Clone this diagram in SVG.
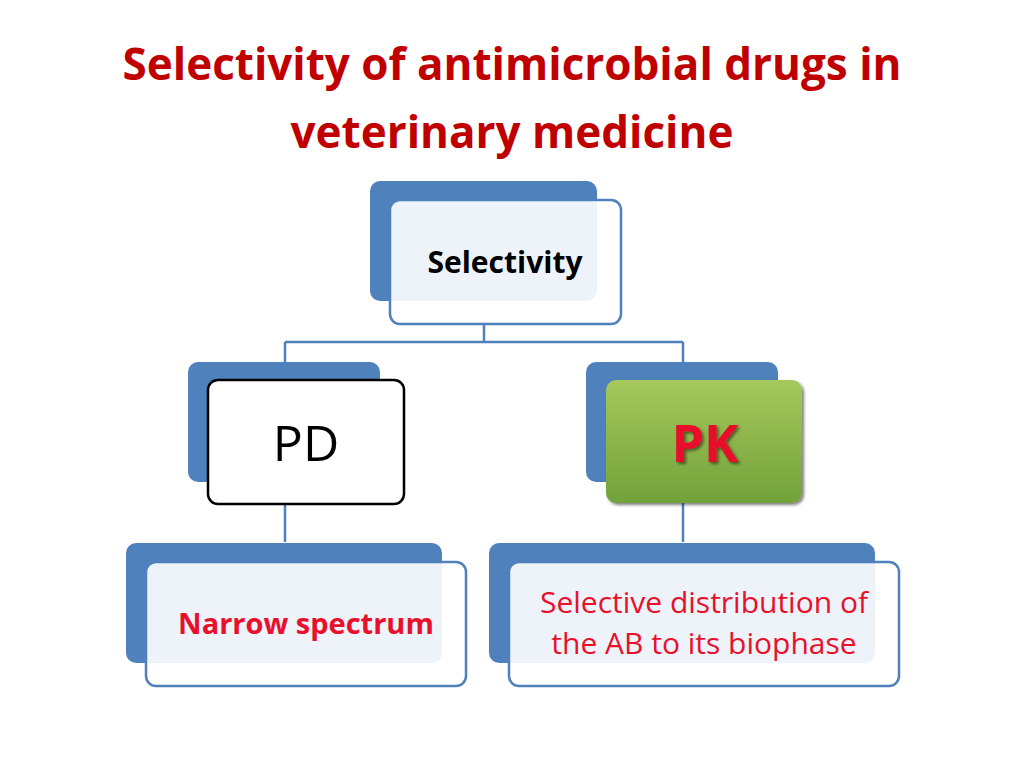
<svg xmlns="http://www.w3.org/2000/svg" width="1024" height="768" viewBox="0 0 1024 768">
<style>
.back{fill:#4F81BD}
.front{fill:#fff;fill-opacity:0.9;stroke:#4F81BD;stroke-width:2.5}
.t{font-family:"Open Sans","Liberation Sans",sans-serif;text-anchor:middle}
.con{stroke:#4F81BD;stroke-width:2.5;fill:none}
</style>
<defs>
<linearGradient id="g" x1="0" y1="0" x2="0" y2="1">
<stop offset="0" stop-color="#A6C85C"/><stop offset="1" stop-color="#72A23A"/>
</linearGradient>
<filter id="sh"><feDropShadow dx="2" dy="2" stdDeviation="1.5" flood-opacity="0.5"/></filter>
</defs>
<rect width="1024" height="768" fill="#fff"/>
<text class="t" x="512" y="80" font-size="44" font-weight="bold" fill="#C00000">Selectivity of antimicrobial drugs in</text>
<text class="t" x="512" y="148" font-size="44" font-weight="bold" fill="#C00000">veterinary  medicine</text>
<g id="connectors">
<path class="con" d="M484 324V342M285 342H683M285 342V362M683 342V362M285 504V542M683 503V542"/>
</g>
<g id="selectivity">
<rect class="back" x="370" y="181" width="227" height="120" rx="10"/>
<rect class="front" x="390" y="200" width="231" height="124" rx="10"/>
<text class="t" x="505" y="273" font-size="30" font-weight="bold" fill="#000">Selectivity</text>
</g>
<g id="pd">
<rect class="back" x="188" y="362" width="192" height="120" rx="10"/>
<rect x="208" y="380" width="196" height="124" rx="10" fill="#fff" stroke="#000" stroke-width="2.5"/>
<text class="t" x="306" y="461" font-size="50" fill="#000">PD</text>
</g>
<g id="pk">
<rect class="back" x="586" y="362" width="192" height="120" rx="10"/>
<rect x="606" y="380" width="196" height="123" rx="10" fill="url(#g)" filter="url(#sh)"/>
<text class="t" x="705" y="462" font-size="52" font-weight="bold" fill="#E8102A" filter="url(#sh)">PK</text>
</g>
<g id="narrow">
<rect class="back" x="126" y="543" width="316" height="120" rx="10"/>
<rect class="front" x="146" y="562" width="320" height="124" rx="10"/>
<text class="t" x="306" y="634" font-size="29" font-weight="bold" fill="#E8102A">Narrow spectrum</text>
</g>
<g id="selective">
<rect class="back" x="489" y="543" width="386" height="120" rx="10"/>
<rect class="front" x="509" y="562" width="390" height="124" rx="10"/>
<text class="t" x="704" y="613" font-size="30" fill="#E8102A">Selective distribution of</text>
<text class="t" x="704" y="654" font-size="30" fill="#E8102A">the AB to its biophase</text>
</g>
</svg>
